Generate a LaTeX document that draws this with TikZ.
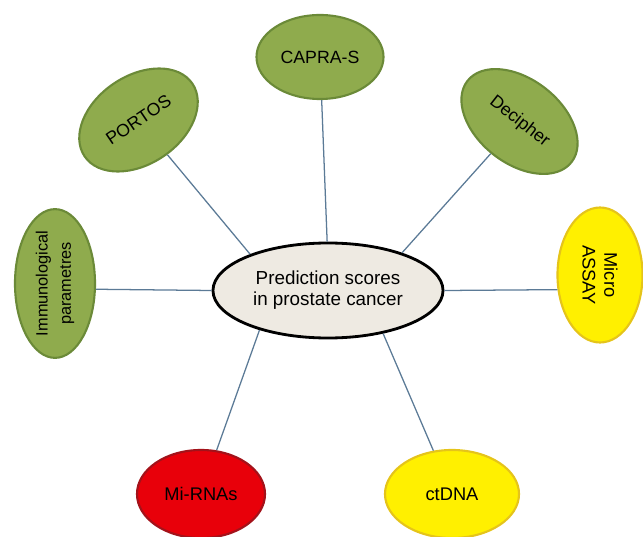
\documentclass[tikz,border=0pt]{standalone}
\usepackage{fontspec}
\setmainfont{Liberation Sans}
\usetikzlibrary{shapes.geometric}

\definecolor{hubfill}{HTML}{EEEAE2}
\definecolor{leafgreen}{HTML}{8FAB4D}
\definecolor{leafdark}{HTML}{6B8A38}
\definecolor{goldfill}{HTML}{FFF000}
\definecolor{golddark}{HTML}{E5C41A}
\definecolor{rubyfill}{HTML}{E8000A}
\definecolor{rubydark}{HTML}{A3121A}
\definecolor{linkblue}{HTML}{5B7A96}

\begin{document}
\begin{tikzpicture}[
    x=0.025cm, y=-0.025cm,
    every node/.style={align=center},
    hub/.style={ellipse, draw=black, line width=2pt, fill=hubfill, inner sep=0pt,
        minimum width=5.75cm, minimum height=2.375cm, font=\fontsize{13.4}{15}\selectfont},
    score/.style={ellipse, draw=leafdark, line width=1.5pt, fill=leafgreen, inner sep=0pt,
        font=\fontsize{12.6}{15}\selectfont},
    marker/.style={ellipse, draw=golddark, line width=1.5pt, fill=goldfill, inner sep=0pt,
        font=\fontsize{13}{15.4}\selectfont},
    risk/.style={ellipse, draw=rubydark, line width=1.5pt, fill=rubyfill, inner sep=0pt,
        font=\fontsize{13}{15}\selectfont},
    link/.style={draw=linkblue, line width=0.9pt}
]
\useasboundingbox (0,0) rectangle (643,537);
\node[hub] (pred) at (328,290.5) {Prediction scores\\in prostate cancer};
\node[score, minimum width=3.175cm, minimum height=2.1cm] (capra) at (320,57) {CAPRA-S};
\node[score, rotate=34, minimum width=3.25cm, minimum height=2.2cm] (portos) at (138.5,120) {PORTOS};
\node[score, rotate=-38, minimum width=3.3cm, minimum height=2.1cm] (decipher) at (519.5,121.5) {Decipher};
\node[score, rotate=90, minimum width=3.675cm, minimum height=2cm,
    font=\fontsize{11.6}{16.5}\selectfont] (immuno) at (55,283.5) {Immunological\\parametres};
\node[marker, rotate=-90, minimum width=3.375cm, minimum height=2.125cm] (micro) at (600,275) {Micro\\ASSAY};
\node[risk, minimum width=3.2cm, minimum height=2.2cm] (mirna) at (201,494) {Mi-RNAs};
\node[marker, minimum width=3.35cm, minimum height=2.2cm] (ctdna) at (452,494) {ctDNA};
\draw[link] (pred.91) -- (capra);
\draw[link] (pred.155) -- (portos);
\draw[link] (pred.27) -- (decipher);
\draw[link] (pred.west) -- (immuno.262);
\draw[link] (pred.east) -- (micro.289);
\draw[link] (pred.210) -- (mirna);
\draw[link] (pred.322) -- (ctdna);
\end{tikzpicture}
\end{document}
